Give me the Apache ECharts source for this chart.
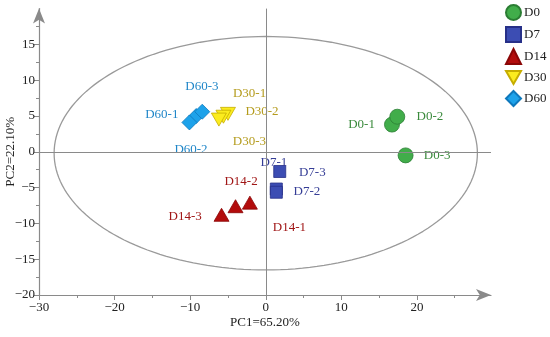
<!DOCTYPE html>
<html><head><meta charset="utf-8">
<script src="https://cdn.jsdelivr.net/npm/echarts@6/dist/echarts.min.js"></script>
<style>html,body{margin:0;padding:0;background:#fff}#c{width:550px;height:337px}</style>
</head><body><div id="c"></div>
<script>
// ---- data ----
const groups = ['D0', 'D7', 'D14', 'D30', 'D60'];
const d0Names = ['D0-1', 'D0-2', 'D0-3'];
const d0Points = [[16.7, 3.8], [17.4, 4.9], [18.5, -0.5]];
const d7Names = ['D7-1', 'D7-2', 'D7-3'];
const d7Points = [[1.4, -5.2], [1.4, -5.65], [1.85, -2.75]];
const d14Names = ['D14-1', 'D14-2', 'D14-3'];
const d14Points = [[-2.1, -7.1], [-4.0, -7.6], [-5.85, -8.8]];
const d30Names = ['D30-1', 'D30-2', 'D30-3'];
const d30Points = [[-5.0, 5.3], [-5.6, 4.9], [-6.2, 4.5]];
const d60Names = ['D60-1', 'D60-2', 'D60-3'];
const d60Points = [[-9.2, 5.0], [-10.1, 4.1], [-8.4, 5.6]];
const xTickLabels = [-30, -20, -10, 0, 10, 20];
const yTickLabels = [-20, -15, -10, -5, 0, 5, 10, 15];
const xAxisName = 'PC1=65.20%';
const yAxisName = 'PC2=22.10%';
// confidence ellipse parameters
const ellipseCenter = [0, -0.2];
const ellipseRadii = [28.0, 16.3];

// ---- layout / style ----
const labelOffsets = {
  'D0-1': [-30, 0], 'D0-2': [33, 0], 'D0-3': [32, 1],
  'D7-1': [-2, -26], 'D7-2': [31, 0], 'D7-3': [33, 1],
  'D14-1': [40, 25], 'D14-2': [6, -24], 'D14-3': [-36, 2],
  'D30-1': [22, -20], 'D30-2': [39, -5], 'D30-3': [31, 22],
  'D60-1': [-34, -1], 'D60-2': [2, 28], 'D60-3': [0, -25]
};
const styles = {
  D0: {symbol: 'circle', size: [15, 15], fill: '#41ad4a', border: '#2b7d33', text: '#3a8a3c'},
  D7: {symbol: 'rect', size: [12, 12], fill: '#3c4db3', border: '#273088', text: '#353d96'},
  D14: {symbol: 'triangle', size: [15, 13], fill: '#b30c0c', border: '#8a0606', text: '#a01616'},
  D30: {symbol: 'path://M0,0 L12,0 L6,10.4 Z', size: [15, 13], fill: '#fbec1e', border: '#c6ad00', text: '#b49b1c'},
  D60: {symbol: 'diamond', size: [15, 15], fill: '#1da2ea', border: '#0e78bc', text: '#1f86c8'}
};
const FONT = '"Liberation Serif", "DejaVu Serif", serif';
const groupData = {
  D0: [d0Names, d0Points], D7: [d7Names, d7Points], D14: [d14Names, d14Points],
  D30: [d30Names, d30Points], D60: [d60Names, d60Points]
};

const ellipsePts = [];
for (let i = 0; i <= 360; i += 2) {
  const t = i * Math.PI / 180;
  ellipsePts.push([ellipseCenter[0] + ellipseRadii[0] * Math.cos(t),
                   ellipseCenter[1] + ellipseRadii[1] * Math.sin(t)]);
}

const minus = v => String(v).replace('-', '\u2212');

const series = [{
  type: 'line', data: ellipsePts, showSymbol: false, silent: true, smooth: false,
  lineStyle: {color: '#9a9a9a', width: 1.3}, z: 1, legendHoverLink: false,
  markLine: {
    silent: true, symbol: ['none', 'none'], label: {show: false},
    lineStyle: {color: '#8a8a8a', width: 1, type: 'solid'},
    data: [{xAxis: 0}, {yAxis: 0}]
  }
}];
groups.forEach(g => {
  const s = styles[g];
  const [names, pts] = groupData[g];
  series.push({
    name: g, type: 'scatter', symbol: s.symbol, symbolSize: s.size, z: 3,
    itemStyle: {color: s.fill, borderColor: s.border, borderWidth: 0.8, opacity: 1},
    data: pts.map((p, i) => {
      const off = labelOffsets[names[i]];
      return {
        value: p, name: names[i],
        label: {show: true, formatter: names[i],
          position: [s.size[0] / 2 + off[0], s.size[1] / 2 + off[1]], align: 'center', verticalAlign: 'middle',
          color: s.text, fontFamily: FONT, fontSize: 13}
      };
    }),
    labelLayout: {hideOverlap: false}
  });
});

const chart = echarts.init(document.getElementById('c'), null, {renderer: 'canvas'});
chart.setOption({
  animation: false,
  grid: {left: 39, right: 59, top: 8.6, bottom: 42, containLabel: false, outerBoundsMode: 'none'},
  legend: {
    data: groups, orient: 'vertical', left: 505, top: 4, padding: 0, itemWidth: 15, itemHeight: 15, itemGap: 5,
    textStyle: {fontFamily: FONT, fontSize: 13, color: '#222', padding: [0, 0, 0, -2]}, selectedMode: false
  },
  xAxis: {
    type: 'value', min: -30, max: 29.8, interval: 10,
    name: xAxisName, nameLocation: 'middle', nameGap: 21, nameMoveOverlap: false,
    nameTextStyle: {fontFamily: FONT, fontSize: 13, color: '#222'},
    axisLine: {show: true, onZero: false, symbol: ['none', 'arrow'], symbolSize: [9, 15],
      lineStyle: {color: '#8a8a8a', width: 1.2}},
    axisTick: {show: true, length: 5, lineStyle: {color: '#8a8a8a'}, customValues: xTickLabels},
    minorTick: {show: true, splitNumber: 2, length: 3, lineStyle: {color: '#8a8a8a'}},
    splitLine: {show: false},
    axisLabel: {fontFamily: FONT, fontSize: 13, color: '#222', margin: 6,
      customValues: xTickLabels, formatter: v => minus(v)}
  },
  yAxis: {
    type: 'value', min: -20, max: 20, interval: 5,
    name: yAxisName, nameLocation: 'middle', nameGap: 22, nameRotate: 90, nameMoveOverlap: false,
    nameTextStyle: {fontFamily: FONT, fontSize: 13, color: '#222'},
    axisLine: {show: true, onZero: false, symbol: ['none', 'arrow'], symbolSize: [9, 15],
      lineStyle: {color: '#8a8a8a', width: 1.2}},
    axisTick: {show: true, length: 5, lineStyle: {color: '#8a8a8a'}, customValues: yTickLabels},
    minorTick: {show: true, splitNumber: 2, length: 3, lineStyle: {color: '#8a8a8a'}},
    splitLine: {show: false},
    axisLabel: {fontFamily: FONT, fontSize: 13, color: '#222', margin: 4,
      customValues: yTickLabels, formatter: v => minus(v)}
  },
  series: series
});
</script></body></html>
